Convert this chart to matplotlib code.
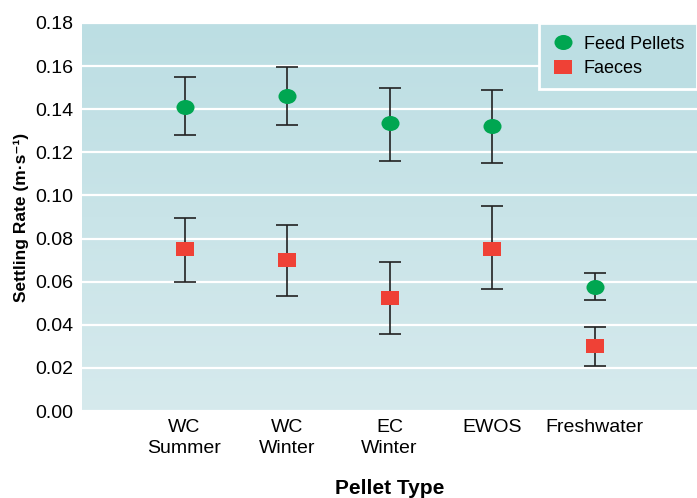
import numpy as np
import matplotlib
matplotlib.use("Agg")
import matplotlib.pyplot as plt
from matplotlib.path import Path
from matplotlib.transforms import Affine2D
from matplotlib.colors import LinearSegmentedColormap

plt.rcParams['font.family'] = ['Liberation Sans', 'DejaVu Sans']

categories = ["WC\nSummer", "WC\nWinter", "EC\nWinter", "EWOS", "Freshwater"]

feed_mean = [0.141, 0.146, 0.1335, 0.132, 0.0575]
feed_hi = [0.155, 0.1595, 0.150, 0.149, 0.064]
feed_lo = [0.128, 0.1328, 0.1158, 0.115, 0.0515]

faeces_mean = [0.075, 0.070, 0.0525, 0.075, 0.030]
faeces_hi = [0.0895, 0.0865, 0.069, 0.095, 0.039]
faeces_lo = [0.060, 0.0533, 0.0355, 0.0565, 0.021]

yticks = [0.00, 0.02, 0.04, 0.06, 0.08, 0.10, 0.12, 0.14, 0.16, 0.18]

# wide-ish markers like in the reference
ellipse = Path.unit_circle().transformed(Affine2D().scale(1.2, 1.0))
rect = Path([(-1.3, -1), (1.3, -1), (1.3, 1), (-1.3, 1), (-1.3, -1)],
            [Path.MOVETO, Path.LINETO, Path.LINETO, Path.LINETO, Path.CLOSEPOLY])

fig = plt.figure(figsize=(6.97, 4.98), dpi=100)
ax = fig.add_axes([82/697, 87/498, 1 - 82/697, 388/498])

# background gradient
cmap = LinearSegmentedColormap.from_list("bg", ["#d6eaed", "#bcdee3"])
grad = np.linspace(0, 1, 256).reshape(-1, 1)
ax.imshow(grad, aspect='auto', cmap=cmap, origin='lower',
          extent=[0, 1, 0, 1], transform=ax.transAxes, zorder=0)

x = np.arange(1, len(categories) + 1)

fm = np.array(feed_mean)
ax.errorbar(x, fm, yerr=[fm - np.array(feed_lo), np.array(feed_hi) - fm],
            fmt='none', ecolor='#222222', elinewidth=1.2, capsize=8, capthick=1.2, zorder=3)
ax.plot(x, fm, linestyle='none', marker=ellipse, markersize=13, color='#00a651',
        markeredgewidth=0, zorder=4, label='Feed Pellets')

am = np.array(faeces_mean)
ax.errorbar(x, am, yerr=[am - np.array(faeces_lo), np.array(faeces_hi) - am],
            fmt='none', ecolor='#222222', elinewidth=1.2, capsize=8, capthick=1.2, zorder=3)
ax.plot(x, am, linestyle='none', marker=rect, markersize=13, color='#ef4136',
        markeredgewidth=0, zorder=4, label='Faeces')

ax.set_xlim(0, 6)
ax.set_ylim(0, 0.18)
ax.set_yticks(yticks)
ax.set_yticklabels([f"{v:.2f}" for v in yticks], fontsize=14)
ax.set_xticks(x)
ax.set_xticklabels(categories, fontsize=14, linespacing=1.3)
ax.tick_params(length=0, pad=6)
ax.yaxis.grid(True, color='white', linewidth=1.6, zorder=1)
ax.set_axisbelow(False)
for s in ax.spines.values():
    s.set_visible(False)

ax.set_xlabel("Pellet Type", fontsize=15, fontweight='bold', labelpad=16)
ax.set_ylabel("Settling Rate (m·s⁻¹)", fontsize=12.5, fontweight='bold', labelpad=5)

leg = ax.legend(loc='upper right', bbox_to_anchor=(1.0, 1.0), borderaxespad=0,
                fontsize=13, frameon=True, fancybox=False, handletextpad=0.5,
                borderpad=0.7, labelspacing=0.4, handlelength=1.3)
leg.get_frame().set_facecolor('#bcdee3')
leg.get_frame().set_edgecolor('white')
leg.get_frame().set_linewidth(2)
leg.get_frame().set_alpha(1)
leg.set_zorder(5)

fig.savefig("out.png", dpi=100)
